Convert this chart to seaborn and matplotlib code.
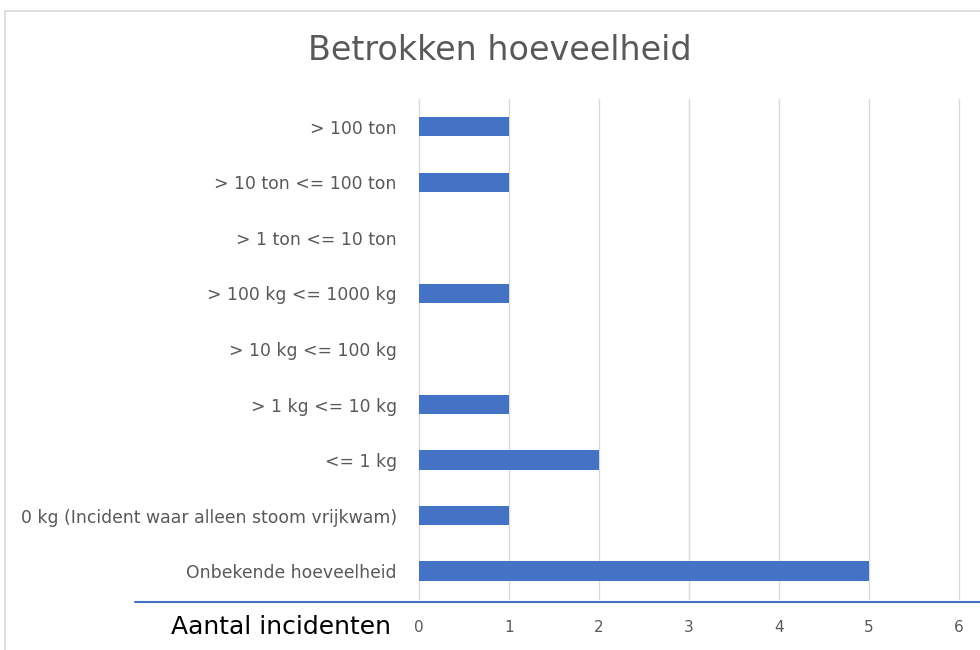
import matplotlib
matplotlib.use('Agg')
import matplotlib.pyplot as plt
from matplotlib.lines import Line2D
from matplotlib.patches import Rectangle
import seaborn as sns
import pandas as pd

# Data
categorieen = [
    '> 100 ton',
    '> 10 ton <= 100 ton',
    '> 1 ton <= 10 ton',
    '> 100 kg <= 1000 kg',
    '> 10 kg <= 100 kg',
    '> 1 kg <= 10 kg',
    '<= 1 kg',
    '0 kg (Incident waar alleen stoom vrijkwam)',
    'Onbekende hoeveelheid',
]
aantallen = [1, 1, 0, 1, 0, 1, 2, 1, 5]
x_ticks = [0, 1, 2, 3, 4, 5, 6]

df = pd.DataFrame({'categorie': categorieen, 'aantal': aantallen})

sns.set_theme(style='white')
plt.rcParams['font.family'] = ['DejaVu Sans']

TXT = '#595959'
BLAUW = '#4472c4'

fig = plt.figure(figsize=(9.8, 6.5), dpi=100)
ax = fig.add_axes([0.4276, 0.0785, 0.551, 0.7692])

sns.barplot(data=df, y='categorie', x='aantal', orient='h', color=BLAUW,
            width=0.35, saturation=1, linewidth=0, ax=ax)

ax.set_xlim(0, 6)
ax.set_xticks(x_ticks)
ax.set_xticklabels([str(t) for t in x_ticks])
ax.grid(axis='x', color='#d9d9d9', linewidth=1)
for gl in ax.get_xgridlines():
    gl.set_clip_on(False)
ax.set_axisbelow(True)
for s in ax.spines.values():
    s.set_visible(False)
ax.set_xlabel('')
ax.set_ylabel('')
ax.tick_params(axis='both', length=0, labelcolor=TXT)
ax.tick_params(axis='x', pad=15, labelsize=11)
ax.tick_params(axis='y', pad=16, labelsize=12.4)

# Titel
fig.text(0.51, 0.922, 'Betrokken hoeveelheid', ha='center', va='center',
         fontsize=24, color=TXT)

# As-titel links onder
fig.text(0.174, 0.035, 'Aantal incidenten', ha='left', va='center',
         fontsize=18, color='black')

# Blauwe lijn onder de grafiek
fig.add_artist(Line2D([0.138, 1.0], [0.074, 0.074], color=BLAUW,
                      linewidth=1.5, transform=fig.transFigure))

# Grijze kaderrand
fig.add_artist(Rectangle((0.005, -0.05), 1.2, 1.033, transform=fig.transFigure,
                         fill=False, edgecolor='#d9d9d9', linewidth=1.2))

fig.savefig('out.png', dpi=100)
